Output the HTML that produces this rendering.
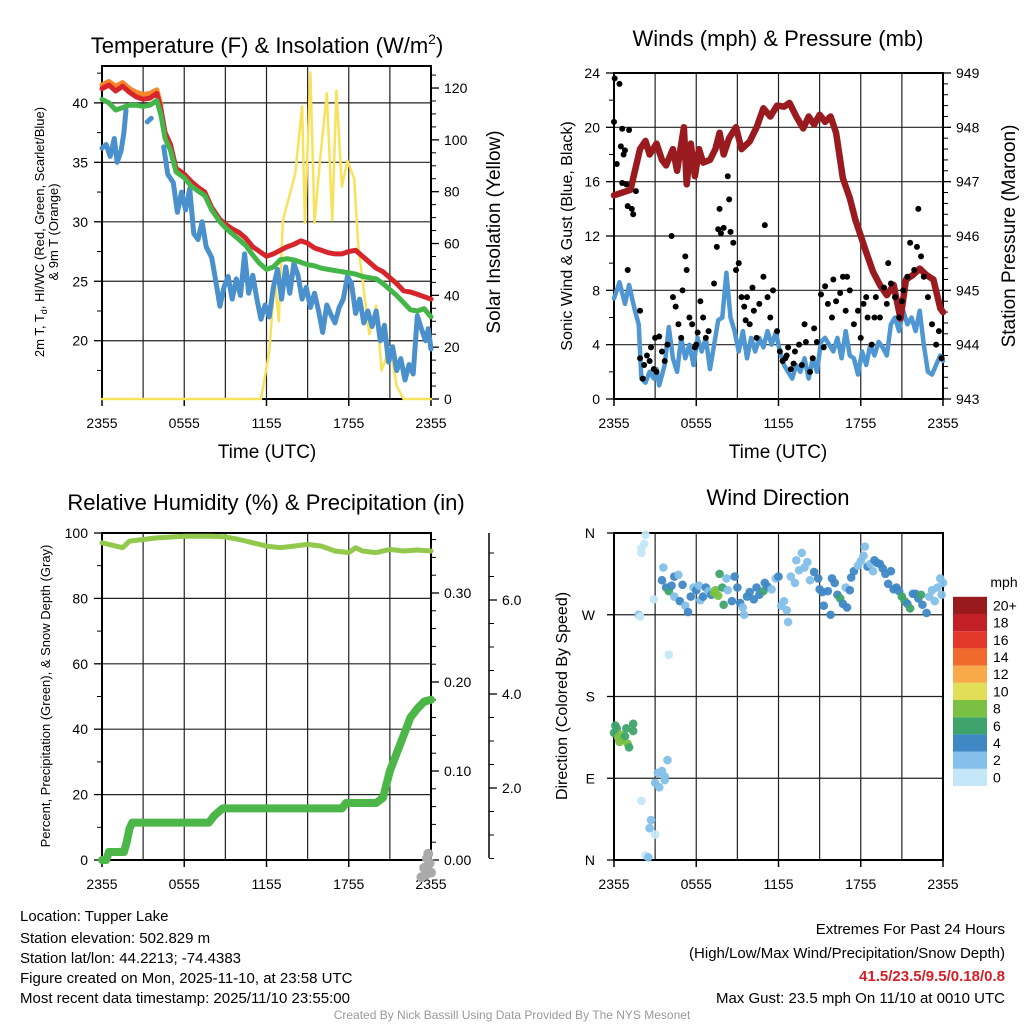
<!DOCTYPE html>
<html><head><meta charset="utf-8"><style>
body{margin:0;background:#fff;}
svg{display:block;font-family:"Liberation Sans",Arial,sans-serif;}
</style></head><body>
<svg id="chart" width="1024" height="1024" viewBox="0 0 1024 1024" xmlns="http://www.w3.org/2000/svg">
<rect width="1024" height="1024" fill="#fff"/>
<g id="base"></g>
<text x="267" y="53" font-size="22" text-anchor="middle">Temperature (F) &amp; Insolation (W/m<tspan font-size="14" dy="-9">2</tspan><tspan dy="9">)</tspan></text>
<text x="778" y="46" font-size="22" text-anchor="middle">Winds (mph) &amp; Pressure (mb)</text>
<text x="266" y="510" font-size="22" text-anchor="middle">Relative Humidity (%) &amp; Precipitation (in)</text>
<text x="778" y="505" font-size="22" text-anchor="middle">Wind Direction</text>
<text x="267" y="458" font-size="19" text-anchor="middle">Time (UTC)</text>
<text x="778" y="458" font-size="19" text-anchor="middle">Time (UTC)</text>
<text transform="translate(44,232) rotate(-90)" font-size="13" text-anchor="middle">2m T, T<tspan font-size="9" dy="3">d</tspan><tspan dy="-3">, HI/WC (Red, Green, Scarlet/Blue)</tspan></text>
<text transform="translate(58,232) rotate(-90)" font-size="13" text-anchor="middle">&amp; 9m T (Orange)</text>
<text transform="translate(500,232) rotate(-90)" font-size="19" text-anchor="middle">Solar Insolation (Yellow)</text>
<text transform="translate(572,236) rotate(-90)" font-size="16" text-anchor="middle">Sonic Wind &amp; Gust (Blue, Black)</text>
<text transform="translate(1015,236) rotate(-90)" font-size="19" text-anchor="middle">Station Pressure (Maroon)</text>
<text transform="translate(50,696) rotate(-90)" font-size="13" text-anchor="middle">Percent, Precipitation (Green), &amp; Snow Depth (Gray)</text>
<text transform="translate(567,696) rotate(-90)" font-size="16" text-anchor="middle">Direction (Colored By Speed)</text>
<text x="1004" y="587" font-size="14" text-anchor="middle">mph</text>
<g font-size="15">
<text x="20" y="921">Location: Tupper Lake</text>
<text x="20" y="943">Station elevation: 502.829 m</text>
<text x="20" y="963">Station lat/lon: 44.2213; -74.4383</text>
<text x="20" y="983">Figure created on Mon, 2025-11-10, at 23:58 UTC</text>
<text x="20" y="1003">Most recent data timestamp: 2025/11/10 23:55:00</text>
</g>
<g font-size="15" text-anchor="end">
<text x="1005" y="934">Extremes For Past 24 Hours</text>
<text x="1005" y="958">(High/Low/Max Wind/Precipitation/Snow Depth)</text>
<text x="1005" y="981" fill="#d42027" font-weight="bold">41.5/23.5/9.5/0.18/0.8</text>
<text x="1005" y="1003">Max Gust: 23.5 mph On 11/10 at 0010 UTC</text>
</g>
<text x="512" y="1019" font-size="12" fill="#999" text-anchor="middle">Created By Nick Bassill Using Data Provided By The NYS Mesonet</text>
</svg>
<script>
const tempHours=[0,0.5,1,1.5,2,2.5,3,3.5,4,4.3,4.6,5,5.4,6,6.5,7,7.5,8,8.6,9,9.5,10,10.5,11,11.5,12,12.5,13,13.5,14,14.5,15,15.5,16,16.5,17,17.5,18,18.5,19,19.5,20,20.5,21,21.5,22,22.5,23,23.5,24];
const tempRed=[41.2,41.5,41.0,41.4,40.9,40.5,40.3,40.4,40.8,39.5,37.5,36.5,34.5,34.0,33.4,32.9,32.5,31.2,30.2,29.8,29.4,29.1,28.6,27.9,27.5,27.1,27.3,27.6,27.9,28.1,28.4,28.2,27.8,27.6,27.4,27.3,27.3,27.5,27.6,27.1,26.6,26.1,25.8,25.3,24.8,24.2,24.1,23.9,23.7,23.5];
const tempGreen=[40.3,40.0,39.4,39.6,39.8,39.8,39.7,39.8,40.2,39.0,37.0,36.0,34.2,33.7,33.0,32.6,32.2,31.0,30.0,29.5,29.0,28.5,28.0,27.2,26.5,26.0,26.2,26.8,26.9,26.8,26.6,26.4,26.3,26.1,26.0,25.9,25.8,25.7,25.6,25.4,25.3,25.2,24.8,24.3,23.8,23.2,22.6,22.5,22.7,22.0];
const orangeHours=[0,0.5,1,1.5,2,2.5,3,3.5,4,4.3];
const tempOrange=[41.5,41.8,41.4,41.7,41.2,40.9,40.7,40.8,41.1,39.8];
const dewHours=[0,0.3,0.6,0.9,1.1,1.4,1.6,1.75,null,3.3,3.6,null,4.5,4.8,5.2,5.5,5.8,6.1,6.4,6.7,7.0,7.3,7.6,8.0,8.3,8.6,8.9,9.2,9.5,9.8,10.1,10.4,10.7,11.0,11.3,11.6,11.9,12.2,12.5,12.8,13.1,13.4,13.7,14.0,14.3,14.6,14.9,15.2,15.5,15.8,16.1,16.4,16.7,17.0,17.3,17.6,17.9,18.2,18.5,18.8,19.1,19.4,19.7,20.0,20.3,20.6,20.9,21.2,21.5,21.8,22.1,22.4,22.7,23.0,23.3,23.6,23.8,24.0];
const dewBlue=[36.2,36.5,35.5,37.0,35.0,36.0,37.5,39.4,null,38.4,38.7,null,36.3,34.0,33.3,30.8,32.5,31.0,32.8,29.0,28.5,30.0,27.9,27.0,25.0,22.9,24.5,25.4,23.5,25.2,23.8,27.3,24.0,25.5,23.5,21.8,23.0,22.0,24.5,26.0,23.5,26.2,24.0,26.5,25.5,23.5,24.5,22.8,24.0,22.5,20.7,23.0,22.2,21.5,22.8,23.5,25.4,24.8,22.3,23.5,21.5,22.5,21.2,22.5,20.0,21.3,18.2,19.5,17.5,18.5,16.7,18.0,17.2,22.1,21.0,20.0,21.0,19.3];
const solarHours=[0,11.6,12.2,12.6,12.9,13.2,13.7,14.1,14.6,14.8,15.2,15.5,15.9,16.4,16.8,17.1,17.5,17.9,18.4,18.7,19.5,20.0,20.4,21.0,21.5,22.0,24];
const solarVals=[0,0,18,46,30,69,79,87,113,68,126,68,92,118,69,119,82,92,85,59,25,36,11,20,5,0,0];
const presHours=[0,1.2,1.9,2.3,2.6,3.1,3.5,3.8,4.3,4.6,5.1,5.3,5.6,5.9,6.2,6.5,7.0,7.4,7.7,8.0,8.4,8.9,9.3,9.9,10.4,10.9,11.4,11.9,12.4,12.8,13.3,13.8,14.2,14.6,15.0,15.4,15.8,16.2,16.7,17.2,17.6,17.9,18.4,18.9,19.4,19.9,20.4,20.9,21.3,21.8,22.3,22.8,23.3,23.8,24];
const presVals=[946.75,946.85,947.6,947.75,947.5,947.7,947.4,947.3,947.6,947.2,948.0,946.95,947.7,947.1,947.6,947.35,947.4,947.6,947.9,947.5,947.8,948.0,947.6,947.74,948.0,948.35,948.2,948.4,948.38,948.45,948.2,947.98,948.2,948.05,948.23,948.1,948.2,947.9,947.06,946.7,946.3,946.08,945.7,945.34,945.1,944.91,945.1,944.48,945.2,945.28,945.4,945.28,945.2,944.67,944.6];
const windHours=[0,0.4,0.8,1.1,1.5,1.8,2.0,2.3,2.6,2.9,3.1,3.3,3.7,4.0,4.3,4.6,4.9,5.2,5.5,5.8,6.1,6.4,6.7,7.0,7.3,7.6,7.9,8.2,8.5,8.8,9.1,9.4,9.7,10.0,10.3,10.6,10.9,11.2,11.5,11.8,12.1,12.4,12.7,13.0,13.3,13.6,13.9,14.2,14.5,14.8,15.1,15.4,15.7,16.0,16.3,16.6,16.9,17.2,17.5,17.8,18.1,18.4,18.7,19.0,19.3,19.6,19.9,20.2,20.5,20.8,21.1,21.4,21.7,22.0,22.3,22.6,22.9,23.2,23.5,23.8,24];
const windVals=[7.4,8.6,7.0,8.4,6.6,5.5,1.5,1.2,2.0,1.5,2.2,1.0,2.5,5.3,3.0,2.0,4.5,3.0,4.0,2.5,4.5,3.5,4.5,2.2,4.0,5.8,6.0,9.3,6.0,5.0,3.5,5.0,3.0,4.5,3.5,4.5,3.8,5.0,4.0,4.9,3.5,2.5,2.0,1.5,2.5,2.0,3.0,1.5,3.0,2.0,4.2,4.5,4.0,3.5,4.5,3.0,5.0,3.2,3.0,1.8,3.5,2.5,4.0,3.2,4.2,3.8,3.2,5.5,6.0,5.0,6.5,5.5,6.0,5.0,6.5,4.0,2.0,1.8,2.5,3.2,2.8];
const gustHours=[0.05,0.4,0,0.6,1.1,0.5,0.8,0.7,0.2,0.6,0.9,1.6,1.0,1.3,1.4,1.0,1.9,1.9,2.2,2.4,2.6,2.9,2.1,3.0,3.3,3.5,3.7,3.9,4.2,4.3,4.5,4.7,4.9,5.2,5.3,5.5,5.7,5.9,6.1,6.3,6.5,6.7,6.9,7.3,7.5,7.6,7.7,7.8,8.0,8.3,8.4,8.5,8.7,8.9,9.1,9.3,9.5,9.7,9.9,10.2,10.4,10.6,10.9,11.0,11.2,11.4,11.6,11.9,12.1,12.3,12.5,12.7,12.9,13.2,13.5,13.7,14.0,14.3,14.5,14.8,15.1,15.4,15.6,15.9,16.2,16.5,16.7,16.9,17.2,17.5,17.8,18.0,18.2,18.5,18.8,19.1,19.4,19.7,19.9,20.2,20.5,20.8,21.1,21.4,21.6,21.9,22.1,22.2,22.4,22.6,22.9,23.2,23.5,23.7,23.9,16.0,13.9,17.0,18.4,19.0,2.7,3.1,5.0,6.0,9.6,10.1,12.6,13.1,14.6,15.3,20.0,21.0];
const gustVals=[23.6,23.2,20.4,19.9,19.8,18.6,18.3,18.0,17.3,15.9,15.8,15.3,14.2,14.0,13.6,9.5,6.5,3.0,2.5,3.2,2.8,2.2,1.5,4.5,4.6,3.5,2.8,4.0,12.0,7.5,6.8,5.5,4.5,10.5,9.5,6.0,5.5,3.8,4.9,7.2,6.0,4.5,5.0,8.5,11.2,12.5,14.0,12.2,12.6,16.4,14.7,12.3,11.5,9.5,10.0,7.5,6.8,7.5,5.5,6.5,4.5,7.0,9.0,12.8,7.5,6.0,8.0,5.0,3.5,2.8,3.0,3.8,2.2,3.5,4.0,2.5,4.2,2.0,3.0,4.2,7.7,8.3,7.0,6.0,7.2,7.8,9.0,6.5,8.0,5.5,6.5,4.5,7.0,6.0,4.0,7.5,6.0,8.2,7.0,8.5,7.5,6.0,8.0,9.0,11.5,9.5,11.2,14.0,10.5,9.0,7.5,5.5,4.0,5.0,3.0,8.8,5.5,9.0,7.5,6.0,3.8,2.0,8.0,4.0,5.8,8.2,3.2,2.6,5.2,3.8,10.0,7.2];
const rhHours=[0,1,1.5,2,3,4,6,8,9,10,11,12,13,14,15,16,17,18,18.5,19,20,21,22,23,24];
const rhVals=[97,96,95.5,97.5,98,98.5,99,99,98.8,98,97,96,95.5,96,96.5,96,94.5,94,95.5,94.5,94,95,94.5,94.8,94.5];
const precipHours=[0,0.3,0.5,1.6,1.8,2.0,2.2,7.8,8.2,8.8,17.5,17.8,20.0,20.5,21.0,21.5,22.0,22.5,23.0,23.5,24];
const precipVals=[0,0,0.009,0.009,0.02,0.035,0.042,0.042,0.05,0.058,0.058,0.064,0.064,0.07,0.10,0.12,0.14,0.16,0.17,0.178,0.18];
const snowHours=[23.3,23.5,23.7,23.9,24.0,23.6,23.8];
const snowVals=[0.1,0.3,0.5,0.4,0.2,0.15,0.6];
const dirHours=[0,0.2,0.3,0.5,0.6,0.8,1.0,1.1,1.4,1.4,0.1,0.4,0.9,2.3,2.2,2.0,2.0,1.8,1.9,2.9,4.0,3.9,3.5,3.7,3.2,3.0,3.3,3.7,2.0,2.7,2.6,3.0,2.3,2.5,3.5,3.6,3.8,4.0,4.2,4.4,4.7,4.4,4.8,5.0,5.2,5.4,5.6,5.8,6.0,6.2,6.3,6.5,6.7,6.9,7.1,7.3,7.4,7.6,7.7,7.9,8.2,8.0,8.3,8.6,8.8,9.0,9.2,9.4,9.5,9.7,9.9,10.2,10.4,10.6,10.9,11.0,11.2,11.5,11.8,12.0,12.2,12.4,12.6,12.7,12.9,13.2,13.3,13.5,13.7,13.9,14.1,14.3,14.6,14.9,15.0,15.2,15.3,15.6,15.8,15.9,16.1,16.3,16.5,16.7,16.9,17.0,17.2,17.3,17.5,17.8,18.0,18.2,18.3,18.5,18.7,18.9,19.0,19.2,19.4,19.6,19.8,20.0,20.2,20.4,20.6,20.8,21.0,21.2,21.4,21.6,21.8,22.0,22.2,22.4,22.5,22.8,23.0,23.2,23.4,23.6,23.8,24.0,23.9];
const dirDeg=[140,145,135,138,132,136,128,124,150,142,148,130,145,358,348,343,338,270,268,287,226,110,98,88,96,85,80,92,65,44,35,28,5,3,308,322,300,296,302,312,314,290,285,303,280,273,290,300,297,302,286,290,300,296,292,294,297,291,315,300,310,281,297,285,312,300,283,278,270,290,295,287,300,292,296,305,301,298,310,312,280,285,275,262,312,305,330,319,338,322,328,308,317,310,298,295,280,296,270,310,305,292,288,282,300,278,297,311,318,324,329,335,345,323,326,318,330,327,326,321,315,304,318,298,300,296,290,285,282,277,293,293,288,292,281,272,290,297,285,300,310,305,292];
const dirSpeed=[7,6,8,9,8,6,8,6,6,7,6,8,7,0,0,0,0,2,1,0,0,2,2,2,2,3,3,2,0,3,2,1,1,3,5,3,5,7,4,4,3,3,5,5,3,4,4,2,5,3,2,4,4,3,5,8,9,8,6,6,3,6,2,4,4,5,4,3,2,5,5,5,4,4,7,5,4,3,3,4,2,3,3,2,2,3,2,3,3,2,3,2,4,4,5,4,5,4,5,5,4,4,6,4,3,4,4,4,5,3,3,2,3,4,3,2,4,4,5,4,4,5,4,5,4,4,6,7,5,7,4,5,4,6,5,4,3,2,3,3,3,3,2];
const speedBins=['0','2','4','6','8','10','12','14','16','18','20+'];
const speedColors=['#c4e7f8','#84c0e9','#3f88c5','#3fa46c','#7ac143','#e3de57','#f8a94a','#ef6a2c','#e2382b','#c21f26','#981a1d'];
const hourTicks=['2355','0555','1155','1755','2355'];

const NS='http://www.w3.org/2000/svg';
const root=document.getElementById('base');
function el(tag,attrs,parent){const e=document.createElementNS(NS,tag);for(const k in attrs)e.setAttribute(k,attrs[k]);(parent||root).appendChild(e);return e;}
function linScale(d0,d1,r0,r1){return v=>r0+(v-d0)/(d1-d0)*(r1-r0);}
function pathD(xs,ys,sx,sy){let d='',pen=false;for(let i=0;i<xs.length;i++){if(xs[i]===null||ys[i]===null){pen=false;continue;}d+=(pen?'L':'M')+sx(xs[i]).toFixed(1)+','+sy(ys[i]).toFixed(1);pen=true;}return d;}

function panel(name,x0,y0,x1,y1,vgrid,hgridY){
  const g=el('g',{});
  
  
  for(let i=1;i<8;i++){const x=x0+(x1-x0)*i/8;const l=el('line',{x1:x,y1:y0,x2:x,y2:y1,stroke:'#222','stroke-width':1.2},g);
    
    }
  hgridY.forEach(y=>{const l=el('line',{x1:x0,y1:y,x2:x1,y2:y,stroke:'#222','stroke-width':1.2},g);
    
    });
  const r=el('rect',{x:x0,y:y0,width:x1-x0,height:y1-y0,fill:'none',stroke:'#000','stroke-width':2});
  
  
  hourTicks.forEach((t,i)=>{const x=x0+(x1-x0)*i/4;
    const tl=el('line',{x1:x,y1:y1,x2:x,y2:y1+7,stroke:'#000','stroke-width':1.5});
    
    
    const tx=el('text',{x:x,y:y1+29,'font-size':14,'text-anchor':'middle'});tx.textContent=t;
    
    });
  return g;
}
function yTicks(name,x,vals,sy,side,fmt,minor){
  vals.forEach(v=>{const y=sy(v);
    const l=el('line',{x1:x,y1:y,x2:x+(side<0?-8:8),y2:y,stroke:'#000','stroke-width':1.3});
    
    
    const t=el('text',{x:x+(side<0?-14:13),y:y+5,'font-size':14,'text-anchor':side<0?'end':'start'});t.textContent=fmt(v);
    
    });
  (minor||[]).forEach(v=>{const y=sy(v);
    const l=el('line',{x1:x,y1:y,x2:x+(side<0?-5:5),y2:y,stroke:'#000','stroke-width':1});
    
    });
}
function line(name,xs,ys,sx,sy,color,w){
  const p=el('path',{d:pathD(xs,ys,sx,sy),fill:'none',stroke:color,'stroke-width':w,'stroke-linejoin':'round','stroke-linecap':'round'});
  
  
  return p;
}

{const X0=102,X1=431,Y0=66,Y1=399;
 const sx=linScale(0,24,X0,X1), sy=linScale(15.1,43.1,Y1,Y0), ss=linScale(0,128.5,Y1,Y0);
 panel('temp',X0,Y0,X1,Y1,true,[20,25,30,35,40].map(sy));
 yTicks('temp-y',X0,[20,25,30,35,40],sy,-1,v=>v,[17.5,22.5,27.5,32.5,37.5,42.5]);
 yTicks('solar-y',X1,[0,20,40,60,80,100,120],ss,1,v=>v,[5,10,15,25,30,35,45,50,55,65,70,75,85,90,95,105,110,115,125]);
 line('solar-line',solarHours,solarVals,sx,ss,'#f9e25b',2.5);
 line('dewpoint-line',dewHours,dewBlue,sx,sy,'#4a90cc',5);
 line('temp-9m-line',orangeHours,tempOrange,sx,sy,'#f7862a',5);
 line('temp-2m-line',tempHours,tempRed,sx,sy,'#d7262b',5);
 line('heat-index-line',tempHours,tempGreen,sx,sy,'#44b549',5);
}
{const X0=614,X1=943,Y0=73,Y1=399;
 const sx=linScale(0,24,X0,X1), sy=linScale(0,24,Y1,Y0), sp=linScale(943,949,Y1,Y0);
 panel('wind',X0,Y0,X1,Y1,true,[4,8,12,16,20].map(sy));
 yTicks('wind-y',X0,[0,4,8,12,16,20,24],sy,-1,v=>v,[2,6,10,14,18,22]);
 yTicks('pressure-y',X1,[943,944,945,946,947,948,949],sp,1,v=>v,[943.2,943.4,943.6,943.8,944.2,944.4,944.6,944.8,945.2,945.4,945.6,945.8,946.2,946.4,946.6,946.8,947.2,947.4,947.6,947.8,948.2,948.4,948.6,948.8]);
 line('wind-speed-line',windHours,windVals,sx,sy,'#4f97d2',4.5);
 line('pressure-line',presHours,presVals,sx,sp,'#9a1b1f',6.5);
 gustHours.forEach((h,i)=>{const c=el('circle',{cx:sx(h),cy:sy(gustVals[i]),r:3,fill:'#000'});
   
   });
}
{const X0=102,X1=431,Y0=533,Y1=860;
 const sx=linScale(0,24,X0,X1), sy=linScale(0,100,Y1,Y0), sp=linScale(0,0.1,Y1,771), sn=linScale(0,2,882,788);
 panel('rh',X0,Y0,X1,Y1,true,[20,40,60,80].map(sy));
 yTicks('rh-y',X0,[0,20,40,60,80,100],sy,-1,v=>v,[10,30,50,70,90]);
 yTicks('precip-y',X1,[0,0.1,0.2,0.3],sp,1,v=>v.toFixed(2),[0.02,0.04,0.06,0.08,0.12,0.14,0.16,0.18,0.22,0.24,0.26,0.28,0.32,0.34,0.36]);
 const ax=el('line',{x1:489,y1:533,x2:489,y2:858,stroke:'#000','stroke-width':1.5});
 
 
 yTicks('snow-y',489,[2,4,6],sn,1,v=>v.toFixed(1),[0.5,1,1.5,2.5,3,3.5,4.5,5,5.5,6.5,7]);
 line('rh-line',rhHours,rhVals,sx,sy,'#92c94c',5);
 line('precip-line',precipHours,precipVals,sx,sp,'#4cb748',8);
 snowHours.forEach((h,i)=>{const c=el('circle',{cx:sx(h),cy:sn(snowVals[i]),r:5,fill:'#aaa'});
   
   });
}
{const X0=614,X1=943,Y0=533,Y1=860;
 const sx=linScale(0,24,X0,X1), sy=linScale(0,360,Y1,Y0);
 panel('dir',X0,Y0,X1,Y1,true,[90,180,270].map(sy));
 const dl=['N','E','S','W','N'];
 [0,90,180,270,360].forEach((v,i)=>{const y=sy(v);
   const l=el('line',{x1:X0,y1:y,x2:X0-7,y2:y,stroke:'#000','stroke-width':1.3});
   
   
   const t=el('text',{x:X0-19,y:y+5,'font-size':14,'text-anchor':'end'});t.textContent=dl[i];
   
   });
 dirHours.forEach((h,i)=>{const b=Math.min(Math.floor(dirSpeed[i]/2),10);
   const c=el('circle',{cx:sx(h),cy:sy(dirDeg[i]),r:4.3,fill:speedColors[b],'fill-opacity':0.95});
   
   });
 const bh=17.2, by=786;
 speedBins.forEach((lab,i)=>{const y=by-(i+1)*bh;
   const r=el('rect',{x:953,y:y,width:34,height:bh,fill:speedColors[i]});
   
   
   const t=el('text',{x:993,y:y+bh/2+5,'font-size':14});t.textContent=lab;
   
   });
}
</script>
</body></html>
